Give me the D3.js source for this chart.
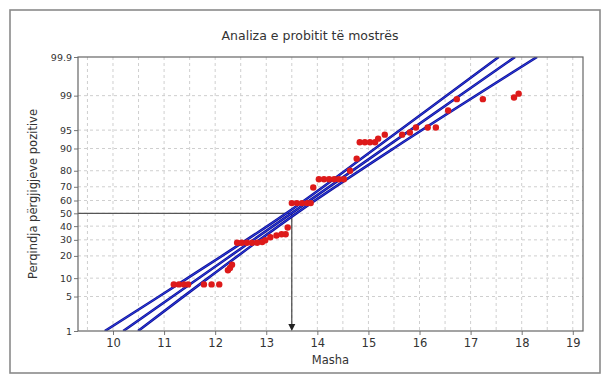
<!DOCTYPE html>
<html><head><meta charset="utf-8">
<script src="https://cdn.jsdelivr.net/npm/d3@7"></script>
<style>
html,body{margin:0;padding:0;background:#fff;}
svg{display:block;}
text{font-family:"DejaVu Sans",Verdana,sans-serif;fill:#333;}
</style></head>
<body>
<svg id="c" width="604" height="377"></svg>
<script>
// ---- data ----
const title = "Analiza e probitit të mostrës";
const xLabel = "Masha";
const yLabel = "Perqindja përgjigjeve pozitive";
const xTicks = [10,11,12,13,14,15,16,17,18,19];
const yTicks = [1,5,10,20,30,40,50,60,70,80,90,95,99,99.9];
const yGrid = [5,10,20,30,40,50,60,70,80,90,95,99];
const xGrid = [9.5,10,10.5,11,11.5,12,12.5,13,13.5,14,14.5,15,15.5,16,16.5,17,17.5,18,18.5,19];
// observed points: dose and percent response
const dose = [11.19,11.29,11.39,11.47,11.78,11.93,12.08,
  12.25,12.29,12.33,
  12.43,12.52,12.62,12.72,12.82,12.92,12.98,13.08,13.2,13.3,13.38,13.42,
  13.5,13.6,13.7,13.8,13.87,13.92,
  14.03,14.13,14.23,14.33,14.42,14.52,14.64,14.77,
  14.83,14.93,15.03,15.13,15.19,15.32,15.66,15.81,15.93,
  16.16,16.32,16.56,16.73,17.24,17.85,17.94];
const pct = [8,8,8,8,8,8,8,
  13,14,15.5,
  28,28,28,28,28,28.5,29.7,31.8,33,34,34,39,
  58,58,58,58,58,69.5,
  75,75,75,75,75,75,80,86,
  92,92,92,92,93,94,94,94.5,95.5,
  95.5,95.5,97.9,98.8,98.8,98.9,99.1];
// fitted line and confidence bands: [percent, dose]
const fitLine = [[1,10.2],[50,13.49],[99.9,17.87]];
const bandLow = [[1,9.84],[10,11.46],[50,13.39],[90,15.13],[99.9,17.55]];
const bandHigh = [[1,10.49],[10,11.86],[50,13.59],[90,15.49],[99.9,18.3]];
const refPct = 50, refDose = 13.5;

// ---- inverse normal (probit scale) ----
function probit(p){
  const a=[-3.969683028665376e+01,2.209460984245205e+02,-2.759285104469687e+02,1.383577518672690e+02,-3.066479806614716e+01,2.506628277459239e+00];
  const b=[-5.447609879822406e+01,1.615858368580409e+02,-1.556989798598866e+02,6.680131188771972e+01,-1.328068155288572e+01];
  const c=[-7.784894002430293e-03,-3.223964580411365e-01,-2.400758277161838e+00,-2.549732539343734e+00,4.374664141464968e+00,2.938163982698783e+00];
  const d=[7.784695709041462e-03,3.224671290700398e-01,2.445134137142996e+00,3.754408661907416e+00];
  const pl=0.02425;let q,r;
  if(p<pl){q=Math.sqrt(-2*Math.log(p));return (((((c[0]*q+c[1])*q+c[2])*q+c[3])*q+c[4])*q+c[5])/((((d[0]*q+d[1])*q+d[2])*q+d[3])*q+1);}
  if(p<=1-pl){q=p-0.5;r=q*q;return (((((a[0]*r+a[1])*r+a[2])*r+a[3])*r+a[4])*r+a[5])*q/(((((b[0]*r+b[1])*r+b[2])*r+b[3])*r+b[4])*r+1);}
  q=Math.sqrt(-2*Math.log(1-p));return -(((((c[0]*q+c[1])*q+c[2])*q+c[3])*q+c[4])*q+c[5])/((((d[0]*q+d[1])*q+d[2])*q+d[3])*q+1);
}

const L=78,R=583,T=57,B=331;
const svg=d3.select("#c");
const x=d3.scaleLinear().domain([9.315,19.2]).range([L,R]);
const yz=d3.scaleLinear().domain([probit(0.01),probit(0.999)]).range([B,T]);
const y=p=>yz(probit(p/100));

// outer frame
svg.append("rect").attr("x",10).attr("y",10).attr("width",590).attr("height",363)
  .attr("fill","#fff").attr("stroke","#8a8a8a").attr("stroke-width",1.6);

// title
svg.append("text").attr("x",310).attr("y",40).attr("text-anchor","middle")
  .attr("font-size",12.5).attr("fill","#222").text(title);

// grid
const g=svg.append("g");
g.selectAll(".vg").data(xGrid).join("line")
  .attr("x1",d=>x(d)).attr("x2",d=>x(d)).attr("y1",T).attr("y2",B)
  .attr("stroke","#cfcfcf").attr("stroke-width",1).attr("stroke-dasharray","3,3");
g.selectAll(".hg").data(yGrid).join("line")
  .attr("x1",L).attr("x2",R).attr("y1",d=>y(d)).attr("y2",d=>y(d))
  .attr("stroke","#cfcfcf").attr("stroke-width",1).attr("stroke-dasharray","3,3");

// axes
const ya=svg.append("g").attr("transform",`translate(${L},0)`)
  .call(d3.axisLeft(yz).tickValues(yTicks.map(p=>probit(p/100))).tickSize(4).tickPadding(2)
    .tickFormat((d,i)=>String(yTicks[i])));
ya.select(".domain").remove();
ya.selectAll("text").attr("font-size",9.5).attr("fill","#444").style("font-family","'DejaVu Sans',sans-serif");
ya.selectAll("line").attr("stroke","#777");
const xa=svg.append("g").attr("transform",`translate(0,${B})`)
  .call(d3.axisBottom(x).tickValues(xTicks).tickSize(4).tickPadding(4).tickFormat(d3.format("d")));
xa.select(".domain").remove();
xa.selectAll("text").attr("font-size",11.5).attr("fill","#444").style("font-family","'DejaVu Sans',sans-serif");
xa.selectAll("line").attr("stroke","#777");

// axis labels
svg.append("text").attr("x",(L+R)/2).attr("y",364).attr("text-anchor","middle")
  .attr("font-size",11.5).attr("fill","#444").text(xLabel);
svg.append("text").attr("transform","translate(37,194) rotate(-90)").attr("text-anchor","middle")
  .attr("font-size",11.5).attr("fill","#444").text(yLabel);

// clip
svg.append("clipPath").attr("id","pc").append("rect").attr("x",L).attr("y",T).attr("width",R-L).attr("height",B-T);
const pg=svg.append("g").attr("clip-path","url(#pc)");

// reference lines
pg.append("line").attr("x1",L).attr("x2",x(refDose)).attr("y1",y(refPct)).attr("y2",y(refPct))
  .attr("stroke","#555").attr("stroke-width",1.2);
pg.append("line").attr("x1",x(refDose)).attr("x2",x(refDose)).attr("y1",y(refPct)).attr("y2",B-5)
  .attr("stroke","#333").attr("stroke-width",1.1);
svg.append("path").attr("d",`M${x(refDose)-3.5},${B-7}L${x(refDose)+3.5},${B-7}L${x(refDose)},${B}Z`).attr("fill","#222");

// fitted lines
const line=d3.line().x(d=>x(d[1])).y(d=>y(d[0])).curve(d3.curveCatmullRom);
[bandLow,fitLine,bandHigh].forEach(s=>{
  pg.append("path").attr("d",line(s)).attr("fill","none").attr("stroke","#12129a").attr("stroke-width",2.6);
  pg.append("path").attr("d",line(s)).attr("fill","none").attr("stroke","#2a3ee0").attr("stroke-width",1);
});

// points
pg.selectAll(".pt").data(dose.map((d,i)=>[d,pct[i]])).join("circle")
  .attr("cx",d=>x(d[0])).attr("cy",d=>y(d[1])).attr("r",3.2).attr("fill","#dd1a1a");

// plot border
svg.append("rect").attr("x",L).attr("y",T).attr("width",R-L).attr("height",B-T)
  .attr("fill","none").attr("stroke","#666").attr("stroke-width",1.2);
</script>
</body></html>
